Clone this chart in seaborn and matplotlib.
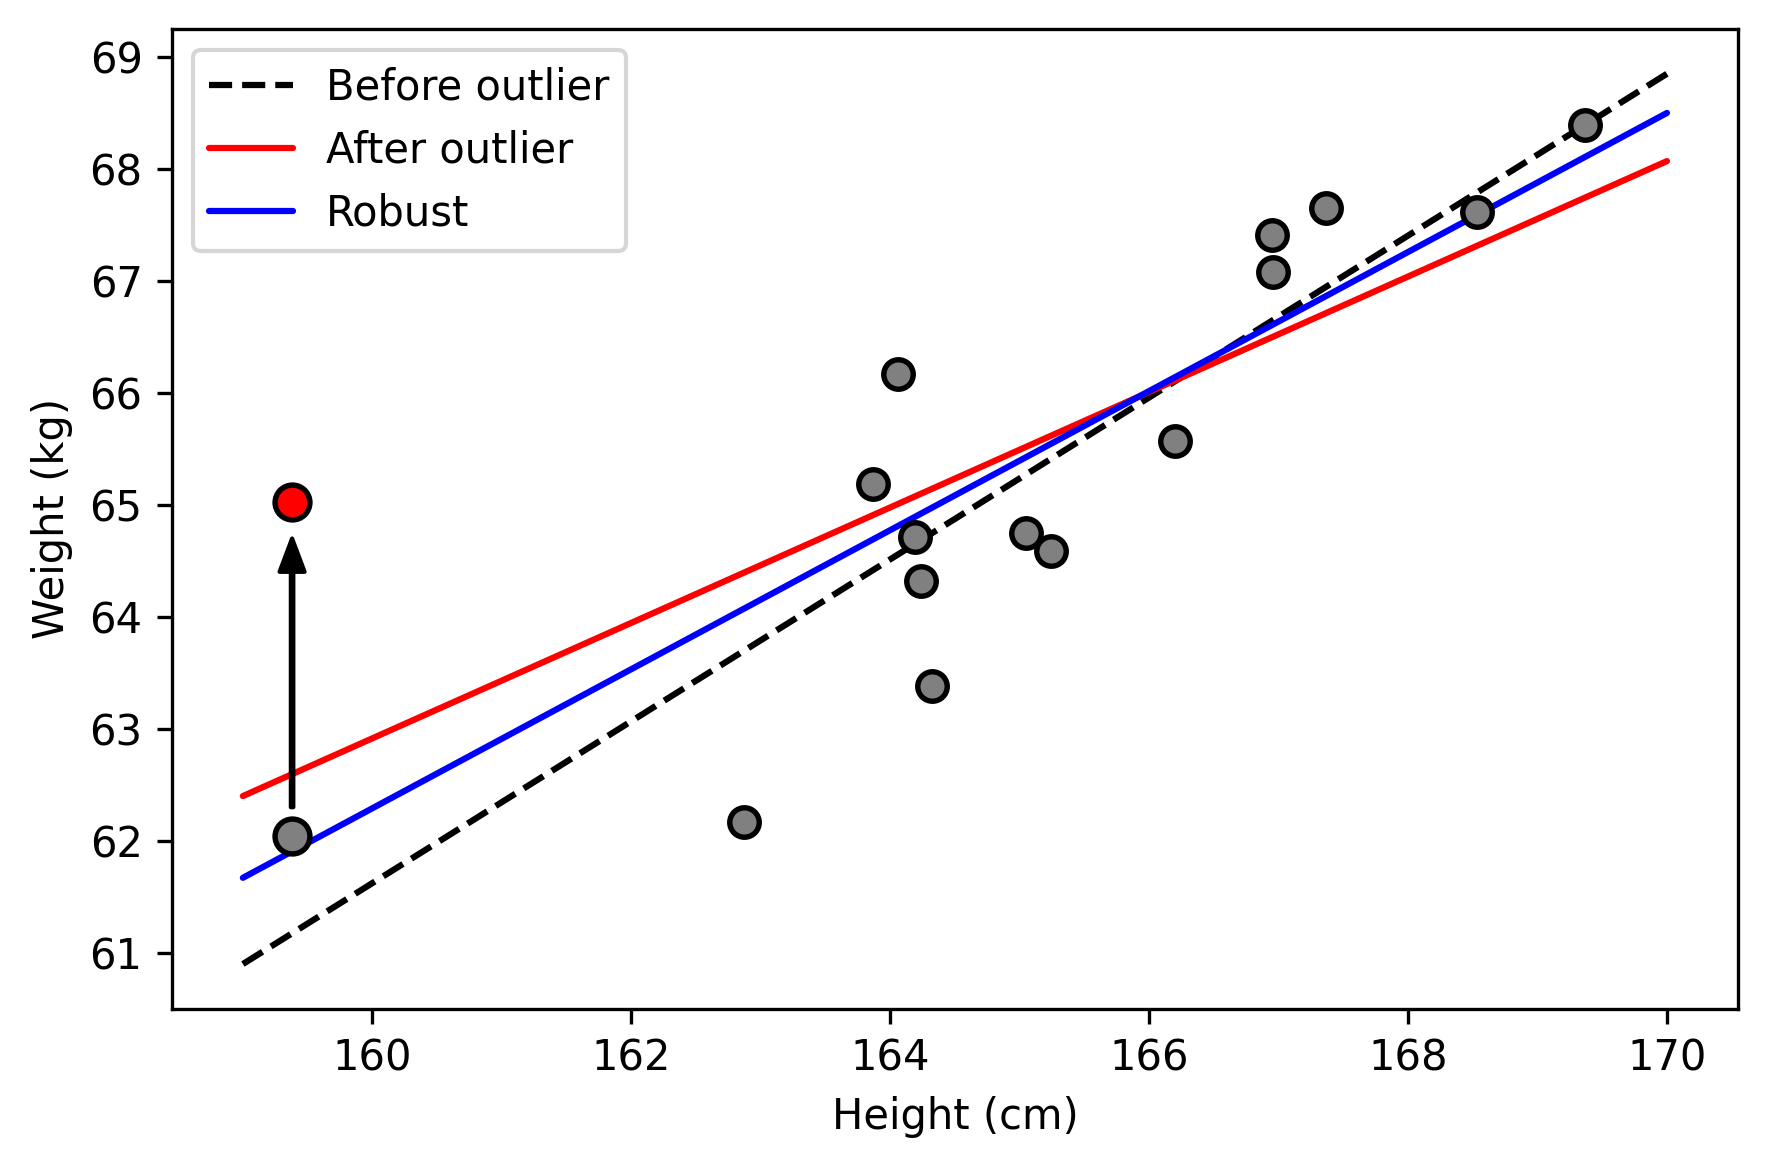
import matplotlib
matplotlib.use("Agg")
import matplotlib.pyplot as plt
import seaborn as sns
import pandas as pd

# data
height = [162.87, 163.87, 164.06, 164.19, 164.24, 164.32, 165.05, 165.24,
          166.20, 166.95, 166.96, 167.37, 168.53, 169.37]
weight = [62.17, 65.19, 66.17, 64.71, 64.32, 63.38, 64.75, 64.59,
          65.57, 67.41, 67.08, 67.65, 67.62, 68.39]

orig_x, orig_y = 159.38, 62.04       # point before moving
outlier_y = 65.03                    # same point after moving

fit_x = [159.0, 170.0]
before_y = [60.90, 68.85]
after_y = [62.40, 68.07]
robust_y = [61.67, 68.50]

df = pd.DataFrame({"Height (cm)": height, "Weight (kg)": weight})

sns.set_style("ticks", rc={"text.color": "black", "axes.labelcolor": "black",
                           "xtick.color": "black", "ytick.color": "black",
                           "axes.edgecolor": "black"})
plt.rcParams['font.family'] = ['DejaVu Sans']
plt.rcParams['font.size'] = 10

fig, ax = plt.subplots(figsize=(5.9, 3.9), dpi=300)

sns.lineplot(x=fit_x, y=before_y, ax=ax, color="black", linestyle="--", linewidth=1.5, label="Before outlier")
sns.lineplot(x=fit_x, y=after_y, ax=ax, color="red", linewidth=1.5, label="After outlier")
sns.lineplot(x=fit_x, y=robust_y, ax=ax, color="blue", linewidth=1.5, label="Robust")

sns.scatterplot(data=df, x="Height (cm)", y="Weight (kg)", ax=ax, color="gray",
                edgecolor="black", linewidth=1.3, s=50, zorder=3)
ax.scatter([orig_x], [orig_y], color="gray", edgecolor="black", linewidth=1.3, s=70, zorder=3)
ax.scatter([orig_x], [outlier_y], color="red", edgecolor="black", linewidth=1.3, s=70, zorder=3)

ax.annotate("", xy=(orig_x, 64.70), xytext=(orig_x, 62.30),
            arrowprops=dict(facecolor="black", edgecolor="black", width=0.6, headwidth=6, headlength=8, shrink=0))

ax.set_xlabel("Height (cm)", fontsize=10)
ax.set_ylabel("Weight (kg)", fontsize=10)
ax.legend(loc="upper left", fontsize=10)
ax.tick_params(labelsize=10)

fig.subplots_adjust(left=0.097, right=0.982, top=0.975, bottom=0.138)
fig.savefig("out.png", dpi=300)
